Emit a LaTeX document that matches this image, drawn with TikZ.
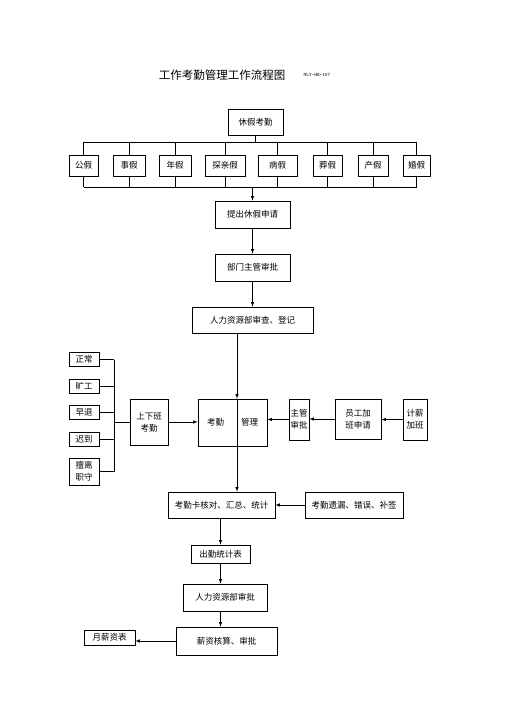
\documentclass[tikz,border=0pt]{standalone}
\usepackage{fontspec}
\setmainfont{Noto Sans CJK SC}
\usetikzlibrary{arrows}

\begin{document}
\begin{tikzpicture}[x=1pt,y=-1pt]
        \tikzset{
            box/.style 2 args={
                draw, line width=0.6pt, inner sep=1pt, align=center,
                minimum width=#1, minimum height=#2,
                font=\fontsize{8.5}{12}\selectfont
            },
            flow/.style={line width=0.6pt},
            arr/.style={line width=0.6pt, -latex}
        }
        \fill[white] (0,0) rectangle (505,714);
        % title
        \node[font=\fontsize{11.5}{14}\selectfont] (title) at (222,75) {工作考勤管理工作流程图};
        \node[font=\ttfamily\fontsize{5}{6}\selectfont] (code) at (317,75) {MLY-HR-107};
        % leave types
        \node[box={55}{26}] (leave) at (255.5,122) {休假考勤};
        \foreach \n/\x/\w/\t in {gong/83.5/29/公假, shi/129/32/事假, nian/175/32/年假,
            tan/225/40/探亲假, bing/277.5/39/病假, zang/327.5/29/葬假,
            chan/373/30/产假, hun/416.5/27/婚假}
            \node[box={\w}{21}] (\n) at (\x,165.5) {\t};
        \coordinate (upbus) at (0,142);
        \coordinate (lowbus) at (0,187);
        \draw[flow] (leave.south) -- (leave.south |- upbus);
        \draw[flow] (gong.north |- upbus) -- (hun.north |- upbus);
        \draw[flow] (gong.south |- lowbus) -- (hun.south |- lowbus);
        \foreach \n in {gong,shi,nian,tan,bing,zang,chan,hun} {
            \draw[flow] (\n.north) -- (\n.north |- upbus);
            \draw[flow] (\n.south) -- (\n.south |- lowbus);
        }
        % application and approval
        \node[box={75}{27}] (apply) at (252.5,214.5) {提出休假申请};
        \node[box={75}{27}] (dept) at (252.5,267.5) {部门主管审批};
        \node[box={121}{26}] (hrreg) at (252.5,320) {人力资源部审查、登记};
        \draw[arr] (apply.north |- lowbus) -- (apply.north);
        \draw[arr] (apply.south) -- (dept.north);
        \draw[arr] (dept.south) -- (hrreg.north);
        % attendance
        \node[box={30}{14}] (zc) at (84,359.5) {正常};
        \node[box={30}{14}] (kg) at (84,386) {旷工};
        \node[box={30}{14}] (zt) at (84,412) {早退};
        \node[box={30}{14}] (cd) at (84,439) {迟到};
        \node[box={30}{27}] (ll) at (84,471.5) {擅离\\职守};
        \node[box={38}{46}] (shift) at (149,422) {上下班\\考勤};
        \node[box={69}{47}] (kq) at (232.5,422.5) {考勤\hspace{2em}管理};
        \node[box={20}{41}] (mg) at (299,419.5) {主管\\审批};
        \node[box={46}{40}] (yg) at (358,419) {员工加\\班申请};
        \node[box={24}{41}] (jx) at (415,419.5) {计薪\\加班};
        \coordinate (lbus) at (114,0);
        \foreach \n in {zc,kg,zt,cd,ll}
            \draw[flow] (\n.east) -- (\n.east -| lbus);
        \draw[flow] (zc.east -| lbus) -- (ll.east -| lbus);
        \draw[flow] (shift.west -| lbus) -- (shift.west);
        \draw[arr] (shift.east) -- (shift.east -| kq.west);
        \draw[arr] (jx.west) -- (jx.west -| yg.east);
        \draw[arr] (yg.west) -- (yg.west -| mg.east);
        \draw[arr] (mg.west) -- (mg.west -| kq.east);
        % statistics and payroll
        \node[box={107}{26}] (card) at (221.5,505) {考勤卡核对、汇总、统计};
        \node[box={98}{26}] (miss) at (354,505) {考勤遗漏、错误、补签};
        \node[box={59}{18}] (stat) at (220.5,554) {出勤统计表};
        \node[box={84}{27}] (hrok) at (225,597.5) {人力资源部审批};
        \node[box={101}{28}] (pay) at (226.5,641) {薪资核算、审批};
        \node[box={51}{15}] (month) at (109.5,637.5) {月薪资表};
        \coordinate (axis) at (237,0);
        \draw[arr] (hrreg.south -| axis) -- (kq.north -| axis);
        \draw[arr] (kq.north -| axis) -- (card.north -| axis);
        \draw[arr] (miss.west) -- (miss.west -| card.east);
        \draw[arr] (card.south -| stat.north) -- (stat.north);
        \draw[arr] (stat.south) -- (stat.south |- hrok.north);
        \draw[arr] (stat.south |- hrok.south) -- (stat.south |- pay.north);
        \draw[arr] (pay.west) -- (pay.west -| month.east);
\end{tikzpicture}
\end{document}
